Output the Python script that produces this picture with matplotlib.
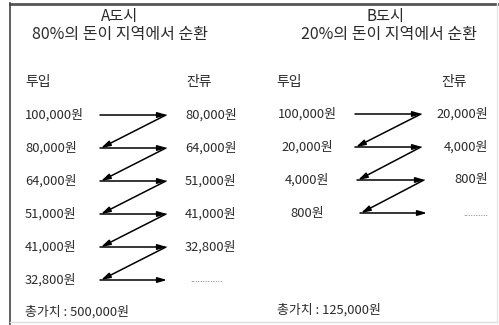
import matplotlib
matplotlib.use('Agg')
import matplotlib.pyplot as plt

plt.rcParams['font.family'] = ['Noto Sans CJK KR', 'DejaVu Sans']

# 데이터
a_title = ['A도시', '80%의 돈이 지역에서 순환']
b_title = ['B도시', '20%의 돈이 지역에서 순환']
a_in = [100000, 80000, 64000, 51000, 41000, 32800]
a_out = [80000, 64000, 51000, 41000, 32800]
b_in = [100000, 20000, 4000, 800]
b_out = [20000, 4000, 800]
a_total = 500000
b_total = 125000

def won(v):
    return f'{v:,}원'

fig = plt.figure(figsize=(4.99, 3.25), dpi=100)
ax = fig.add_axes([0, 0, 1, 1])
ax.set_xlim(0, 499)
ax.set_ylim(325, 0)
ax.axis('off')

tc = '#2a2a2a'
fs = 9.3
ap = dict(arrowstyle='-|>,head_length=0.55,head_width=0.16', color='black',
          lw=1.1, shrinkA=0, shrinkB=0)

# 테두리
ax.plot([10, 499], [3.5, 3.5], color='#555555', lw=2)
ax.plot([10, 10], [3, 325], color='#444444', lw=1.2)
ax.plot([10, 497], [322, 322], color='#dddddd', lw=1)
ax.plot([497, 497], [3, 322], color='#e6e6e6', lw=1)

# 제목
ax.text(120, 17, a_title[0], ha='center', va='center', fontsize=11, color=tc)
ax.text(120, 35, a_title[1], ha='center', va='center', fontsize=11.5, color=tc)
ax.text(386, 17, b_title[0], ha='center', va='center', fontsize=11, color=tc)
ax.text(389, 35, b_title[1], ha='center', va='center', fontsize=11.5, color=tc)

ax.text(25, 82, '투입', ha='left', va='center', fontsize=10, color=tc)
ax.text(186, 82, '잔류', ha='left', va='center', fontsize=10, color=tc)
ax.text(276, 82, '투입', ha='left', va='center', fontsize=10, color=tc)
ax.text(467, 82, '잔류', ha='right', va='center', fontsize=10, color=tc)

row0, step = 115, 33

# A도시
for i, v in enumerate(a_in):
    y = row0 + i * step
    ax.text(25, y, won(v), ha='left', va='center', fontsize=fs, color=tc)
    ax.annotate('', xy=(167, y), xytext=(100, y), arrowprops=ap)
    if i < len(a_out):
        ax.text(185, y, won(a_out[i]), ha='left', va='center', fontsize=fs, color=tc)
    else:
        ax.text(190, y, '.............', ha='left', va='center', fontsize=6.5, color='#555555')
    if i + 1 < len(a_in):
        ax.annotate('', xy=(101, y + step), xytext=(166, y), arrowprops=ap)
ax.text(25, 312, '총가치 : ' + won(a_total), ha='left', va='center', fontsize=fs, color=tc)

# B도시
b_x0 = [355, 355, 357, 360]
b_x1 = [422, 422, 425, 427]
for i, v in enumerate(b_in):
    y = row0 - 1 + i * 33
    ax.text(307, y, won(v), ha='center', va='center', fontsize=fs, color=tc)
    ax.annotate('', xy=(b_x1[i], y), xytext=(b_x0[i], y), arrowprops=ap)
    if i < len(b_out):
        ax.text(488, y, won(b_out[i]), ha='right', va='center', fontsize=fs, color=tc)
    else:
        ax.text(488, y, '..........', ha='right', va='center', fontsize=6.5, color='#555555')
    if i + 1 < len(b_in):
        ax.annotate('', xy=(b_x0[i + 1] + 1, y + 33), xytext=(b_x1[i] - 1, y), arrowprops=ap)
ax.text(277, 310, '총가치 : ' + won(b_total), ha='left', va='center', fontsize=fs, color=tc)

fig.savefig('out.png', dpi=100, facecolor='white')
